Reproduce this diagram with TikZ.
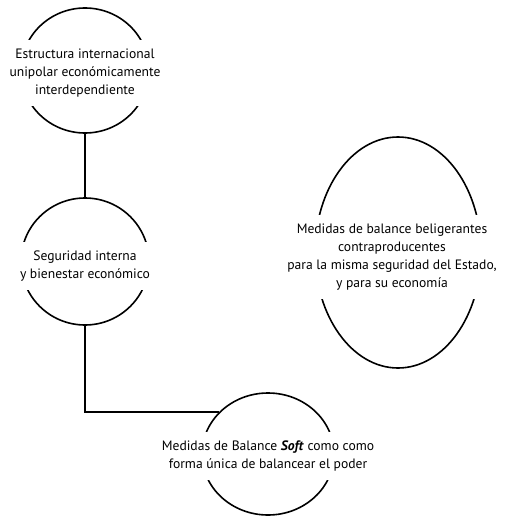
\documentclass[tikz,border=0pt]{standalone}
\usepackage{fontspec}
\setmainfont{PT Sans}
\usetikzlibrary{shapes.geometric}
\begin{document}
\begin{tikzpicture}[x=1pt,y=-1pt,
  oval/.style={draw, ellipse, line width=1.6pt, inner sep=0pt},
  txt/.style={fill=white, align=center, font=\fontsize{13.6}{18}\selectfont, inner xsep=4pt, inner ysep=9pt},
  link/.style={line width=2pt}]
\useasboundingbox (0,0) rectangle (507,516);
\node[oval, minimum width=128pt, minimum height=125pt] (e1) at (85,70.5) {};
\node[oval, minimum width=128pt, minimum height=127pt] (e2) at (85,261.5) {};
\node[oval, minimum width=166pt, minimum height=231pt] (e3) at (398,252.5) {};
\node[oval, minimum width=132pt, minimum height=122pt] (e4) at (268,454) {};
\draw[link] (e1.south) -- (e2.north);
\draw[link] (e2.south) |- (e4.140);
\node[txt] (t1) at (85,73) {Estructura internacional\\unipolar económicamente\\interdependiente};
\node[txt] (t2) at (85,266) {Seguridad interna\\y bienestar económico};
\node[txt] (t3) at (392,257) {Medidas de balance beligerantes\\contraproducentes\\para la misma seguridad del Estado,\\y para su economía};
\node[txt] (t4) at (268,456) {Medidas de Balance \textbf{\textit{Soft}} como como\\forma única de balancear el poder};
\end{tikzpicture}
\end{document}
